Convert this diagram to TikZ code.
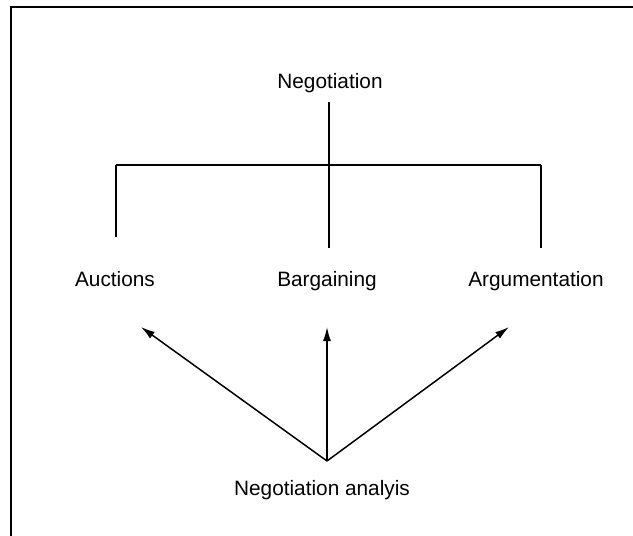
\documentclass[tikz,border=0pt]{standalone}
\usepackage{fontspec}
\setmainfont{Liberation Sans}
\usetikzlibrary{arrows.meta,calc}
\begin{document}
\begin{tikzpicture}[x=1pt,y=-1pt,
  label/.style={inner sep=0pt,anchor=base,font=\fontsize{20.8}{25}\selectfont},
  tree/.style={line width=1.4pt},
  arr/.style={line width=1.5pt,-{Latex[length=14pt,width=8pt]}},
  frame/.style={line width=1.4pt}]
  \useasboundingbox (0,0) rectangle (633,536);
  % frame: top and left rules only
  \draw[frame] (633,7) -- (11,7) -- (11,536);

  % labels
  \node[label] (neg) at (330,88) {Negotiation};
  \node[label] (auc) at (115,286) {Auctions};
  \node[label] (bar) at (327,286) {Bargaining};
  \node[label] (arg) at (536,286) {Argumentation};
  \node[label] (ana) at (322,495) {Negotiation analyis};

  % classification tree
  \coordinate (busM) at (329,165);
  \coordinate (busL) at (116,165);
  \coordinate (busR) at (541,165);
  \draw[tree] ($(neg.base)+(-1,14)$) -- (busM);
  \draw[tree] (busL) -- (busR);
  \draw[tree] (busL) -- ($(auc.base)+(1,-49)$);
  \draw[tree] (busM) -- (busM |- {$(bar.base)+(0,-38)$});
  \draw[tree] (busR) -- ($(arg.base)+(5,-38)$);

  % analysis arrows
  \coordinate (hub) at ($(ana.base)+(5,-34)$);
  \coordinate (tipL) at ($(auc.base)+(26,41)$);
  \coordinate (tipM) at ($(bar.base)+(0,41)$);
  \coordinate (tipR) at ($(arg.base)+(-27,41)$);
  \draw[arr] (hub) -- (tipL);
  \draw[arr] (hub) -- (tipM);
  \draw[arr] (hub) -- (tipR);
\end{tikzpicture}
\end{document}
